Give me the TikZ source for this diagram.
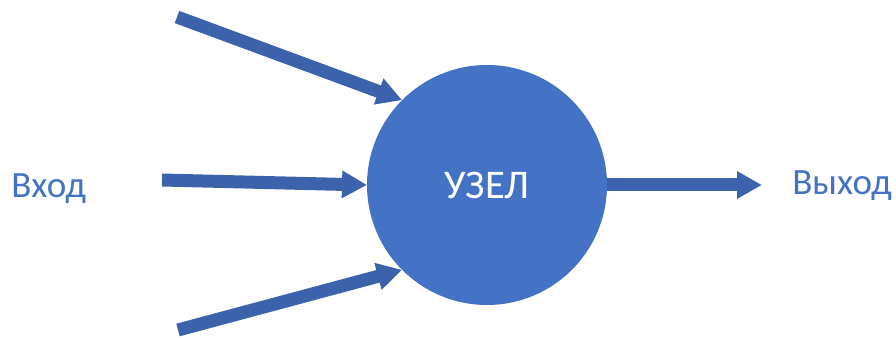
\documentclass[tikz,border=0pt]{standalone}
\usepackage{fontspec}
\setmainfont{Carlito}
\usetikzlibrary{arrows.meta}
\definecolor{uzelblue}{RGB}{68,114,196}
\definecolor{arrowblue}{RGB}{59,98,171}
\tikzset{
  fatarrow/.style={draw=arrowblue, line width=9.75pt, line cap=butt,
    -{Triangle[length=18.75pt,width=19.5pt]}},
  sidetext/.style={inner sep=0pt, font=\fontsize{27.8}{33}\selectfont, text=uzelblue}
}
\begin{document}
\begin{tikzpicture}[x=0.75pt,y=0.75pt,yscale=-1,xscale=1]
\useasboundingbox (0,0) rectangle (896,338);

% Node
\node (uzel) [circle, fill=uzelblue, minimum size=180pt, inner sep=0pt, outer sep=0pt,
  text=white, font=\fontsize{30.5}{36}\selectfont] at (487,185) {УЗЕЛ};

% Labels
\node (vhod) [sidetext, anchor=base west] at (11,198) {Вход};
\node (vyhod) [sidetext, anchor=base west] at (792,195) {Выход};

% Arrow ends
\coordinate (intop) at (177,17);
\coordinate (inmid) at (162,180);
\coordinate (inbot) at (178,330);
\coordinate (outend) at (762,185);

% Arrows
\draw [fatarrow] (intop) -- (uzel.135);
\draw [fatarrow] (inmid) -- (uzel.180);
\draw [fatarrow] (inbot) -- (uzel.225);
\draw [fatarrow] (uzel.east) -- (outend);

\end{tikzpicture}
\end{document}
